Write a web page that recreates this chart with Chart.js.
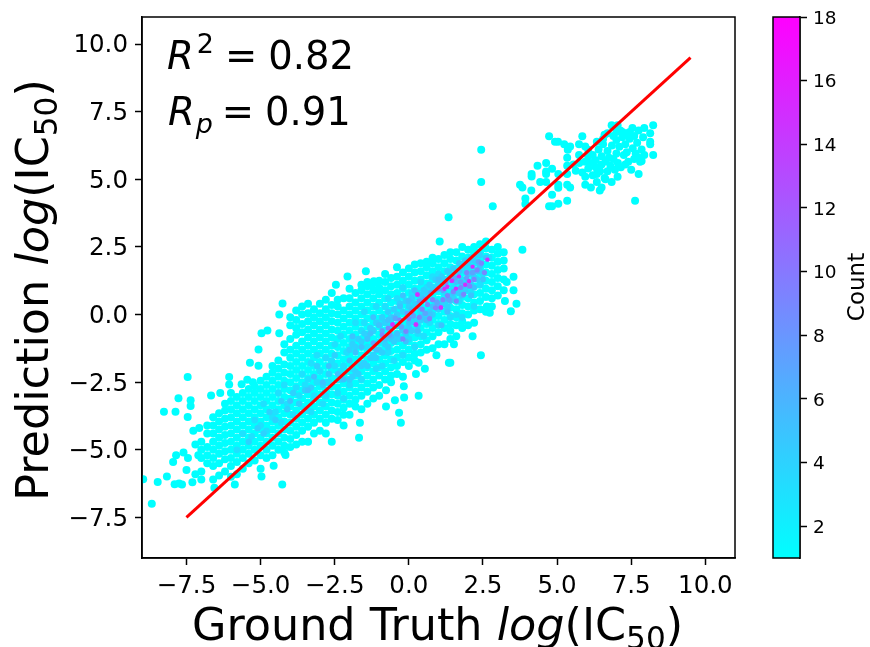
<!DOCTYPE html>
<html>
<head>
<meta charset="utf-8">
<script src="https://cdn.jsdelivr.net/npm/chart.js@4"></script>
<style>
  html, body { margin: 0; background: #fff; }
  #wrap { position: relative; width: 870px; height: 647px; overflow: hidden; }
  canvas { position: absolute; top: 0; }
</style>
</head>
<body>
<div id="wrap">
  <canvas id="main" width="870" height="647" style="left:0;width:870px;height:647px"></canvas>
  <canvas id="bar" width="135" height="647" style="left:735px;width:135px;height:647px"></canvas>
</div>
<script>
const xTicks = [-7.5, -5, -2.5, 0, 2.5, 5, 7.5, 10];
const yTicks = [-7.5, -5, -2.5, 0, 2.5, 5, 7.5, 10];
const countTicks = [2, 4, 6, 8, 10, 12, 14, 16, 18];
const countRange = [1, 18];
const fitX = [-7.5, 9.5];
const fitY = [-7.5, 9.5];

// single dots that stand apart from the main cloud
const looseX = [-8.96, -8.67, -8.47, -8.16, -8.26, -7.87, -7.46, -7.77, -7.36, -7.36, -7.46, -7.27, -7.07, -6.67, -6.36, -6.06, -6.06, -5.64, -5.45, -5.26, -5.36, -5.07, -5.07, -4.97, -4.77, -4.37, -4.37, -4.26, -4.27, -4.97, -4.56, -4.16, -5.87, -6.56, -7.9, -7.75, -7.65, -7.5, -7.3, -7.2, -7.6, -7.85, -7.95, -7.45, -7.2, -7.1,
  -2.46, -2.07, -1.45, -1.18, -1.68, -1.65, -0.27, -0.33, -0.77, 0.33, -0.16, -0.47, -0.17, -0.77, 0.24, 0.54, 0.33, 0.93, 1.35, 1.4, 2.43, 1.52, 2.15, 3.83, 3.44, 3.63, 3.24, 3.53, 3.53, 3.3, 1.34, 1.04, 2.73, 2.63, 2.8, 2.44, 2.44, 2.83];
const looseY = [-6.09, -6.99, -6.19, -5.99, -3.59, -3.59, -2.31, -3.09, -3.17, -3.38, -3.79, -4.30, -4.19, -2.99, -2.90, -2.31, -2.59, -2.58, -2.41, -2.5, -1.78, -1.89, -1.29, -0.69, -0.59, -0.69, 0, 0.41, -6.28, -5.99, -5.59, -5.19, -6.28, -6.4, -6.27, -6.25, -6.28, -5.75, -6.2, -5.9, -5.1, -5.2, -5.45, -5.3, -4.8, -5.2,
  1.1, 1.41, 1.6, 1.23, -4.55, -4.0, -4.0, -3.63, -3.4, -3.0, -3.07, -3.17, -2.65, -2.8, -2.2, -2.0, -1.78, -1.5, -1.78, -1.78, -1.5, -1.1, -0.8, 2.4, 0.12, 0.4, 0.5, 0.9, 1.4, 1.2, 3.6, 2.7, 0.07, 0.3, 0.3, 6.09, 4.9, 4.0];

// upper right cluster
const clusterX = [3.75, 3.83, 4.13, 3.93, 3.93, 4.14, 4.14, 4.34, 4.63, 4.63, 4.63, 4.83, 4.43, 4.63, 4.73, 4.93, 5.03, 5.24, 5.44, 5.36, 5.85, 5.74, 5.95, 6.05, 6.34, 6.55, 6.84, 7.04, 7.13, 7.34, 7.54, 7.75, 7.94, 8.24, 8.14, 8.14, 8.14, 8.24, 7.94, 7.85, 7.75, 7.75, 7.63, 7.04, 6.84, 6.63, 6.5, 6.44, 6.14, 5.95, 5.95, 6.34, 6.34, 5.34, 5.04, 4.83, 4.73, 4.83, 5.04, 5.04, 5.34, 5.44, 5.04, 5.34, 5.34, 5.34, 5.63, 5.74,
  5.55, 5.75, 5.85, 5.95, 6.05, 6.05, 6.15, 6.2, 6.2, 6.3, 6.3, 6.4, 6.45, 6.5, 6.5, 6.55, 6.6, 6.64, 6.7, 6.7, 6.75, 6.8, 6.85, 6.9, 6.95, 7.0, 7.0, 7.05, 7.1, 7.15, 7.2, 7.25, 7.3, 7.3, 7.35, 7.4, 7.45, 7.5, 7.55, 7.6, 7.6, 7.65, 7.7, 7.8, 7.85, 7.9, 6.9, 7.0, 7.2, 7.45, 6.7, 6.6];
const clusterY = [4.80, 4.70, 4.59, 4.29, 4.09, 5.20, 5.1, 5.5, 5.6, 5.29, 5.2, 5.39, 4.90, 4.9, 6.59, 6.39, 6.39, 6.30, 6.21, 6.09, 6.59, 6.30, 6.21, 6.09, 6.39, 6.49, 7.0, 7.0, 6.8, 6.7, 6.9, 6.8, 6.9, 7.0, 6.7, 6.39, 6.3, 5.9, 5.9, 5.68, 5.8, 5.2, 4.21, 5.09, 4.9, 5.0, 4.7, 4.59, 4.7, 4.80, 5.09, 4.9, 5.2, 4.21, 4.10, 4.0, 4.0, 4.43, 4.8, 4.69, 4.8, 4.7, 5.2, 5.2, 5.5, 5.8, 5.32, 5.9,
  5.55, 5.6, 5.25, 5.65, 5.4, 5.85, 5.6, 5.15, 5.9, 5.45, 5.7, 6.1, 5.3, 5.55, 5.85, 6.3, 5.05, 5.66, 5.3, 6.05, 5.8, 5.5, 6.25, 5.75, 5.35, 6.45, 5.95, 5.6, 6.2, 5.45, 6.55, 5.9, 5.55, 6.3, 6.0, 5.65, 6.5, 5.35, 6.15, 5.75, 6.6, 5.95, 6.35, 5.65, 6.1, 6.55, 6.6, 6.75, 6.75, 6.75, 6.7, 6.65];

// main cloud, one list of y values for each x column
const bandX = [-7.0, -6.8, -6.6, -6.4, -6.2, -6.0, -5.8, -5.6, -5.4, -5.2, -5.0, -4.8, -4.6, -4.4, -4.2, -4.0, -3.8, -3.6, -3.4, -3.2, -3.0, -2.8, -2.6, -2.4, -2.2, -2.0, -1.8, -1.6, -1.4, -1.2, -1.0, -0.8, -0.6, -0.4, -0.2, 0.0, 0.2, 0.4, 0.6, 0.8, 1.0, 1.2, 1.4, 1.6, 1.8, 2.0, 2.2, 2.4, 2.6, 2.8, 3.0, 3.2];
const bandY = [
  [-6.1, -5.8, -5.3, -5.0, -4.7],
  [-5.5, -5.2, -4.9, -4.4, -4.1],
  [-6.1, -5.6, -5.3, -5.0, -4.7, -4.4, -4.1, -3.8],
  [-5.95, -5.5, -5.15, -4.85, -4.55, -4.25, -3.95, -3.65],
  [-5.8, -5.35, -5.05, -4.75, -4.45, -4.15, -3.85, -3.55, -3.3],
  [-6.0, -5.6, -5.3, -5.0, -4.7, -4.4, -4.1, -3.8, -3.5, -3.2, -2.9],
  [-5.9, -5.45, -5.15, -4.85, -4.55, -4.25, -3.95, -3.65, -3.35, -3.05],
  [-5.7, -5.3, -5.0, -4.7, -4.4, -4.1, -3.8, -3.5, -3.2, -2.9],
  [-5.5, -5.15, -4.85, -4.55, -4.25, -3.95, -3.65, -3.35, -3.05, -2.75],
  [-5.4, -5.0, -4.7, -4.4, -4.1, -3.8, -3.5, -3.2, -2.9, -2.65],
  [-5.7, -5.2, -4.85, -4.55, -4.25, -3.95, -3.65, -3.35, -3.05, -2.75, -2.45],
  [-5.3, -5.0, -4.7, -4.4, -4.1, -3.8, -3.5, -3.2, -2.9, -2.6, -2.3],
  [-5.2, -4.85, -4.55, -4.25, -3.95, -3.65, -3.35, -3.05, -2.75, -2.45, -2.15, -1.9],
  [-5.0, -4.7, -4.4, -4.1, -3.8, -3.5, -3.2, -2.9, -2.6, -2.3, -2.0, -1.7],
  [-5.1, -4.85, -4.55, -4.25, -3.95, -3.65, -3.35, -3.05, -2.75, -2.45, -2.15, -1.85, -1.4, -1.1],
  [-4.9, -4.6, -4.3, -4.0, -3.7, -3.4, -3.1, -2.8, -2.5, -2.2, -1.9, -1.6, -1.3, -0.9, -0.4, -0.1],
  [-4.8, -4.45, -4.15, -3.85, -3.55, -3.25, -2.95, -2.65, -2.35, -2.05, -1.75, -1.45, -1.15, -0.75, -0.5, -0.2, 0.15],
  [-4.7, -4.3, -4.0, -3.7, -3.4, -3.1, -2.8, -2.5, -2.2, -1.9, -1.6, -1.3, -1.0, -0.65, -0.35, 0.0, 0.3],
  [-4.7, -4.15, -3.85, -3.55, -3.25, -2.95, -2.65, -2.35, -2.05, -1.75, -1.45, -1.15, -0.85, -0.55, -0.25, 0.05, 0.4],
  [-4.4, -4.0, -3.7, -3.4, -3.1, -2.8, -2.5, -2.2, -1.9, -1.6, -1.3, -1.0, -0.7, -0.4, -0.1, 0.2],
  [-4.3, -3.85, -3.55, -3.25, -2.95, -2.65, -2.35, -2.05, -1.75, -1.45, -1.15, -0.85, -0.55, -0.25, 0.05, 0.4],
  [-4.4, -4.0, -3.7, -3.4, -3.1, -2.8, -2.5, -2.2, -1.9, -1.6, -1.3, -1.0, -0.7, -0.4, -0.1, 0.2, 0.55],
  [-4.7, -3.85, -3.55, -3.25, -2.95, -2.65, -2.35, -2.05, -1.75, -1.45, -1.15, -0.85, -0.55, -0.25, 0.05, 0.35, 0.8],
  [-3.9, -3.6, -3.3, -3.0, -2.7, -2.4, -2.1, -1.8, -1.5, -1.2, -0.9, -0.6, -0.3, 0.0, 0.3, 0.55],
  [-4.1, -3.7, -3.45, -3.15, -2.85, -2.55, -2.25, -1.95, -1.65, -1.35, -1.05, -0.75, -0.45, -0.15, 0.15, 0.6],
  [-3.7, -3.3, -3.0, -2.7, -2.4, -2.1, -1.8, -1.5, -1.2, -0.9, -0.6, -0.3, 0.0, 0.3, 0.6, 0.95],
  [-3.4, -3.15, -2.85, -2.55, -2.25, -1.95, -1.65, -1.35, -1.05, -0.75, -0.45, -0.15, 0.15, 0.45, 0.8],
  [-3.5, -3.0, -2.7, -2.4, -2.1, -1.8, -1.5, -1.2, -0.9, -0.6, -0.3, 0.0, 0.3, 0.6, 0.9, 1.1],
  [-3.3, -2.85, -2.55, -2.25, -1.95, -1.65, -1.35, -1.05, -0.75, -0.45, -0.15, 0.15, 0.45, 0.75, 1.05, 1.2],
  [-3.1, -2.7, -2.4, -2.1, -1.8, -1.5, -1.2, -0.9, -0.6, -0.3, 0.0, 0.3, 0.6, 0.9, 1.15],
  [-3.0, -2.6, -2.25, -1.95, -1.65, -1.35, -1.05, -0.75, -0.45, -0.15, 0.15, 0.45, 0.75, 1.0, 1.25],
  [-2.4, -2.1, -1.8, -1.5, -1.2, -0.9, -0.6, -0.3, 0.0, 0.3, 0.6, 0.9, 1.2, 1.5],
  [-2.5, -2.25, -1.95, -1.65, -1.35, -1.05, -0.75, -0.45, -0.15, 0.15, 0.45, 0.75, 1.05, 1.35],
  [-2.2, -1.9, -1.6, -1.3, -1.0, -0.7, -0.4, -0.1, 0.2, 0.5, 0.8, 1.1, 1.4, 1.75],
  [-2.3, -1.75, -1.45, -1.15, -0.85, -0.55, -0.25, 0.05, 0.35, 0.65, 0.95, 1.25, 1.55],
  [-1.9, -1.6, -1.3, -1.0, -0.7, -0.4, -0.1, 0.2, 0.5, 0.8, 1.1, 1.4, 1.7],
  [-1.7, -1.45, -1.15, -0.85, -0.55, -0.25, 0.05, 0.35, 0.65, 0.95, 1.25, 1.55, 1.85],
  [-1.4, -1.1, -0.8, -0.5, -0.2, 0.1, 0.4, 0.7, 1.0, 1.3, 1.6, 1.9],
  [-1.3, -0.95, -0.65, -0.35, -0.05, 0.25, 0.55, 0.85, 1.15, 1.45, 1.75, 1.95],
  [-1.25, -0.8, -0.5, -0.2, 0.1, 0.4, 0.7, 1.0, 1.3, 1.6, 1.9, 2.1],
  [-1.1, -0.65, -0.35, -0.05, 0.25, 0.55, 0.85, 1.15, 1.45, 1.75, 2.05],
  [-1.1, -0.5, -0.2, 0.1, 0.4, 0.7, 1.0, 1.3, 1.6, 1.9, 2.2],
  [-0.9, -0.6, -0.35, -0.05, 0.25, 0.55, 0.85, 1.15, 1.45, 1.75, 2.05, 2.3],
  [-0.8, -0.4, -0.1, 0.2, 0.5, 0.8, 1.1, 1.4, 1.7, 2.0, 2.3],
  [-0.5, -0.25, 0.05, 0.35, 0.65, 0.95, 1.25, 1.55, 1.85, 2.15, 2.5],
  [-0.4, 0.0, 0.3, 0.6, 0.9, 1.2, 1.5, 1.8, 2.1, 2.4],
  [-0.3, 0.15, 0.45, 0.75, 1.05, 1.35, 1.65, 1.95, 2.25, 2.5],
  [0.2, 0.5, 0.8, 1.1, 1.4, 1.7, 2.0, 2.3, 2.6],
  [0.1, 0.65, 0.95, 1.25, 1.55, 1.85, 2.15, 2.45, 2.7],
  [0.6, 0.9, 1.2, 1.5, 1.8, 2.1, 2.4],
  [0.7, 1.05, 1.35, 1.65, 1.95, 2.25, 2.5],
  [0.9, 1.3, 1.7, 2.0, 2.3]
];

// denser spots, drawn over the cloud
const tint3X = [-5.6, -5.3, -5.0, -4.8, -4.5, -4.3, -4.1, -3.9, -3.7, -3.5, -3.4, -3.2, -3.0, -2.9, -2.7, -2.6, -2.4, -2.3, -2.1, -2.0, -1.9, -1.7, -1.6, -1.4, -1.3, -1.1, -1.0, -0.9, -0.7, -0.6, -0.4, -0.3, -0.1, 0.1, 0.2, 0.4, 0.6, 0.7, 0.9, 1.1, 1.3, 1.5, 1.7, 1.9, 2.1, 2.3, 2.5, -4.4, -3.6, -3.1, -2.5, -2.2, -1.5, -0.8, -0.2, 0.3, 0.8, 1.4, 2.0, 2.7,
  -5.8, -5.2, -4.9, -4.6, -4.2, -3.8, -3.5, -3.3, -3.1, -2.8, -2.5, -2.3, -2.2, -1.9, -1.8, -1.5, -1.2, -1.1, -0.9, -0.7, -0.5, -0.2, 0.0, 0.2, 0.5, 0.7, 1.0, 1.2, 1.6, 1.8, 2.2, 2.4, -1.6, -1.0, -0.4, 0.4, 1.0, 1.8, -2.8, -3.3];
const tint3Y = [-4.4, -4.5, -4.1, -4.3, -3.6, -4.0, -3.3, -3.7, -3.0, -3.5, -2.4, -3.0, -2.1, -3.3, -2.5, -1.7, -2.9, -2.1, -1.4, -2.6, -0.9, -1.8, -2.4, -1.2, -0.5, -2.0, -1.0, -0.2, -1.4, -0.3, -0.9, 0.4, -0.5, 0.8, -0.2, 0.1, 1.0, -0.3, 0.5, 1.4, 0.2, 1.0, 0.5, 1.6, 0.8, 1.9, 1.5, -2.9, -2.2, -1.5, -1.1, -1.9, -0.3, 0.3, 1.0, -0.7, 1.4, -0.1, 1.7, 2.1,
  -5.0, -3.9, -3.3, -3.8, -2.6, -2.7, -2.6, -1.8, -2.5, -1.6, -1.9, -0.8, -3.1, -2.0, -0.3, 0.1, -1.6, 0.3, -1.9, 0.6, -1.7, -1.5, -0.9, -1.2, -0.8, 0.8, -0.4, 0.8, 0.0, 1.3, 0.3, 1.1, -0.6, -0.3, 0.6, 1.2, 1.5, -0.1, -3.0, -3.6];
const tint4X = [-2.0, -1.9, -1.8, -1.7, -1.6, -1.5, -1.4, -1.3, -1.2, -1.1, -1.0, -0.9, -0.8, -0.7, -0.6, -0.5, -0.4, -0.3, -0.2, -0.1, 0.0, 0.1, 0.2, 0.3, 0.4, 0.5, 0.6, 0.7, 0.8, 0.9, 1.0, 1.1, 1.2, 1.3, 1.4, 1.5, 1.6, 1.7, 1.8, 1.9, 2.0, 2.1, 2.2, 2.3, 2.4,
  -2.0, -1.9, -1.8, -1.7, -1.6, -1.5, -1.4, -1.3, -1.2, -1.1, -1.0, -0.9, -0.8, -0.7, -0.6, -0.5, -0.4, -0.3, -0.2, -0.1, 0.0, 0.1, 0.2, 0.3, 0.4, 0.5, 0.6, 0.7, 0.8, 0.9, 1.0, 1.1, 1.2, 1.3, 1.4, 1.5, 1.6, 1.7, 1.8, 1.9, 2.0, 2.1, 2.2, 2.3, 2.4,
  -5.4, -5.1, -4.9, -4.7, -4.5, -4.3, -4.1, -3.9, -3.7, -3.5, -3.3, -3.1, -2.9, -2.7, -2.5, -2.3];
const tint4Y = [-2.4, -2.3, -2.1, -2.2, -1.9, -1.8, -1.9, -1.6, -1.5, -1.6, -1.3, -1.4, -1.1, -1.2, -0.9, -1.0, -0.8, -0.9, -0.6, -0.7, -0.5, -0.6, -0.3, -0.4, -0.2, -0.1, -0.2, 0.1, 0.0, 0.3, 0.2, 0.4, 0.5, 0.3, 0.7, 0.6, 0.9, 0.8, 1.0, 0.9, 1.2, 1.1, 1.4, 1.3, 1.6,
  -1.3, -1.1, -1.2, -0.9, -1.0, -0.7, -0.8, -0.5, -0.6, -0.3, -0.4, -0.1, -0.3, 0.1, -0.1, 0.2, 0.0, 0.4, 0.1, 0.5, 0.3, 0.6, 0.4, 0.8, 0.7, 0.9, 0.8, 1.1, 1.0, 1.3, 1.1, 1.4, 1.3, 1.6, 1.5, 1.7, 1.6, 1.9, 1.8, 2.0, 1.9, 2.1, 2.0, 2.2, 2.2,
  -4.7, -4.2, -4.4, -3.6, -3.9, -3.2, -3.5, -2.9, -3.3, -2.8, -2.7, -1.9, -2.6, -2.2, -1.5, -2.4];
const tint5X = [-4.0, -3.4, -2.9, -2.4, -2.0, -1.6, -1.3, -1.0, -0.8, -0.5, -0.3, -0.1, 0.1, 0.3, 0.5, 0.7, 0.9, 1.0, 1.2, 1.4, 1.6, 1.8, 2.0, 2.2, 2.4, 2.6, -0.6, 0.0, 0.6, 1.1, 1.7,
  -3.2, -2.7, -2.2, -1.8, -1.4, -1.1, -0.7, -0.4, -0.2, 0.0, 0.2, 0.4, 0.8, 1.3, 1.5, 1.9, 2.1, 2.3, 2.5, -1.9, -1.2, 0.3, 1.0];
const tint5Y = [-3.2, -2.8, -2.5, -2.2, -1.7, -1.2, -0.7, -0.4, -0.9, -0.1, 0.3, -1.0, 0.2, -0.6, 0.6, 0.0, 0.9, 0.3, 1.1, 0.5, 1.2, 0.7, 1.5, 1.0, 1.8, 2.1, -0.8, -0.3, -0.2, -0.4, 1.6,
  -2.3, -1.9, -2.4, -1.4, -0.9, -1.3, -0.2, -0.7, 0.7, 0.5, 0.9, -0.1, 0.3, 0.1, 0.8, 1.1, 0.7, 1.6, 1.3, -0.8, -0.1, 0.3, 1.3];
const tint7X = [-1.2, -0.9, -0.65, -0.45, -0.25, -0.05, 0.15, 0.35, 0.55, 0.75, 0.95, 1.15, 1.35, 1.55, 1.75, 1.95, 2.15, 2.35];
const tint7Y = [-1.05, -0.6, -0.75, -0.15, -0.45, 0.05, -0.05, 0.5, 0.05, 0.8, 0.45, 0.9, 0.55, 1.35, 1.2, 1.35, 1.55, 1.95];
const tint9X = [-0.9, -0.55, -0.3, -0.1, 0.1, 0.24, 0.29, 0.45, 0.63, 0.8, 1.0, 1.08, 1.3, 1.45, 1.6, 1.75, 1.95, 2.2, 2.45,
  -0.7, -0.2, 0.0, 0.35, 0.55, 0.7, 0.9, 1.15, 1.25, 1.5, 1.85, 2.05, 2.3, 2.55];
const tint9Y = [-0.75, -0.37, -0.2, -0.62, 0.1, -0.37, 0.74, 0.2, 0.37, 0.55, 0.95, 0.26, 0.7, 1.25, 0.5, 1.0, 1.55, 1.3, 1.9,
  -0.5, -0.9, -0.15, -0.1, 0.55, -0.15, 0.25, 0.55, 1.2, 0.85, 0.75, 1.05, 1.65, 1.55];
const tint14X = [-0.55, 0.24, 0.29, 1.3, 1.59, 1.69, 2.03, 2.15, 2.65, 1.08, 1.45, 1.9, 1.2];
const tint14Y = [-0.37, -0.37, 0.74, 1.03, 0.96, 1.41, 1.23, 1.77, 2.03, 0.26, 1.25, 1.1, 0.95];

function coolColor(count) {
  const t = (count - countRange[0]) / (countRange[1] - countRange[0]);
  return `rgb(${Math.round(255 * t)}, ${Math.round(255 * (1 - t))}, 255)`;
}

function zipPoints(xs, ys) {
  return xs.map((x, i) => ({ x, y: ys[i] }));
}

const bandPoints = bandX.flatMap((x, i) => bandY[i].map((y) => ({ x, y })));

function dots(data, count, radius) {
  return { data, backgroundColor: coolColor(count), pointRadius: radius, pointHoverRadius: radius, borderWidth: 0, pointBorderWidth: 0 };
}

// draws a run of plain, italic, sub and superscript pieces
function drawRuns(ctx, runs, size, x, y, center) {
  const fontOf = (r) => `${r.italic ? "italic " : ""}${size * (r.sub || r.sup ? 0.7 : 1)}px "DejaVu Sans"`;
  let total = 0;
  runs.forEach((r) => {
    ctx.font = fontOf(r);
    total += ctx.measureText(r.text).width + (r.gap || 0);
  });
  let pos = center ? x - total / 2 : x;
  ctx.textAlign = "left";
  ctx.textBaseline = "alphabetic";
  ctx.fillStyle = "#000";
  runs.forEach((r) => {
    ctx.font = fontOf(r);
    pos += r.gap || 0;
    ctx.fillText(r.text, pos, y + (r.sub ? size * 0.2 : 0) - (r.sup ? size * 0.42 : 0));
    pos += ctx.measureText(r.text).width;
  });
}

const logRuns = [
  { text: "log", italic: true },
  { text: "(IC" },
  { text: "50", sub: true },
  { text: ")" }
];

const mainLabels = {
  id: "mainLabels",
  afterDraw(chart) {
    const { ctx, chartArea: a } = chart;
    ctx.save();
    ctx.strokeStyle = "#000";
    ctx.lineWidth = 1.5;
    ctx.strokeRect(a.left, a.top, a.right - a.left, a.bottom - a.top);
    drawRuns(ctx, [{ text: "R", italic: true }, { text: "2", sup: true, gap: 3 }, { text: "=", gap: 11 }, { text: "0.82", gap: 11 }], 38.5, 167, 69, false);
    drawRuns(ctx, [{ text: "R", italic: true }, { text: "p", italic: true, sub: true, gap: 1 }, { text: "=", gap: 9 }, { text: "0.91", gap: 11 }], 38.5, 168, 125, false);
    drawRuns(ctx, [{ text: "Ground Truth " }].concat(logRuns), 44.5, 437.5, 640, true);
    ctx.translate(48, 290);
    ctx.rotate(-Math.PI / 2);
    drawRuns(ctx, [{ text: "Prediction " }].concat(logRuns), 44.5, 0, 0, true);
    ctx.restore();
  }
};

const fmtTick = (v) => v.toFixed(1).replace("-", "\u2212");

function dropPadding(s) {
  s.paddingTop = 0;
  s.paddingBottom = 0;
  s.paddingLeft = 0;
  s.paddingRight = 0;
}

function axis(min, max, ticks, fit, labelOffset) {
  return {
    type: "linear",
    min,
    max,
    afterBuildTicks: (s) => { s.ticks = ticks.map((value) => ({ value })); },
    afterFit: (s) => { fit(s); dropPadding(s); },
    grid: { drawOnChartArea: false, tickLength: 7, tickColor: "#000", tickWidth: 1.5 },
    border: { color: "#000", width: 1.5 },
    ticks: {
      callback: fmtTick,
      color: "#000",
      padding: 7,
      labelOffset,
      maxRotation: 0,
      autoSkip: false,
      font: { family: "DejaVu Sans", size: 24.5 }
    }
  };
}

new Chart(document.getElementById("main"), {
  type: "scatter",
  data: {
    datasets: [
      { data: zipPoints(fitX, fitY), showLine: true, borderColor: "#ff0000", borderWidth: 3, pointRadius: 0, clip: false },
      dots(zipPoints(tint14X, tint14Y), 15, 2.2),
      dots(zipPoints(tint9X, tint9Y), 9, 2.6),
      dots(zipPoints(tint7X, tint7Y), 7, 2.8),
      dots(zipPoints(tint5X, tint5Y), 5, 3),
      dots(zipPoints(tint4X, tint4Y), 4, 3.2),
      dots(zipPoints(tint3X, tint3Y), 3, 3.4),
      dots(bandPoints, 1, 4),
      dots(zipPoints(clusterX, clusterY), 1, 4),
      dots(zipPoints(looseX, looseY), 1, 4)
    ]
  },
  options: {
    responsive: false,
    animation: false,
    devicePixelRatio: 1,
    layout: { padding: { left: 0, top: 17, right: 135, bottom: 0 } },
    plugins: { legend: { display: false }, tooltip: { enabled: false } },
    scales: {
      x: axis(-9, 11, xTicks, (s) => { s.height = 89; }, 0),
      y: axis(-9, 11, yTicks, (s) => { s.width = 142; }, 2)
    }
  },
  plugins: [mainLabels]
});

const barLabels = {
  id: "barLabels",
  afterDraw(chart) {
    const { ctx, chartArea: a } = chart;
    ctx.save();
    ctx.strokeStyle = "#000";
    ctx.lineWidth = 1.5;
    ctx.strokeRect(a.left, a.top, a.right - a.left, a.bottom - a.top);
    ctx.translate(129, 287);
    ctx.rotate(-Math.PI / 2);
    ctx.font = '23px "DejaVu Sans"';
    ctx.textAlign = "center";
    ctx.textBaseline = "alphabetic";
    ctx.fillStyle = "#000";
    ctx.fillText("Count", 0, 0);
    ctx.restore();
  }
};

new Chart(document.getElementById("bar"), {
  type: "bar",
  data: {
    labels: ["Count"],
    datasets: [{
      data: [countRange],
      barPercentage: 1,
      categoryPercentage: 1,
      borderWidth: 0,
      backgroundColor(c) {
        const a = c.chart.chartArea;
        if (!a) return coolColor(1);
        const g = c.chart.ctx.createLinearGradient(0, a.bottom, 0, a.top);
        g.addColorStop(0, coolColor(countRange[0]));
        g.addColorStop(1, coolColor(countRange[1]));
        return g;
      }
    }]
  },
  options: {
    responsive: false,
    animation: false,
    devicePixelRatio: 1,
    layout: { padding: { left: 38, top: 17, right: 0, bottom: 89 } },
    plugins: { legend: { display: false }, tooltip: { enabled: false } },
    scales: {
      x: { display: false },
      y: {
        position: "right",
        min: countRange[0],
        max: countRange[1],
        afterBuildTicks: (s) => { s.ticks = countTicks.map((value) => ({ value })); },
        afterFit: (s) => { s.width = 70; dropPadding(s); },
        grid: { drawOnChartArea: false, tickLength: 7, tickColor: "#000", tickWidth: 1.5 },
        border: { color: "#000", width: 1.5 },
        ticks: { color: "#000", padding: 6, labelOffset: 2, font: { family: "DejaVu Sans", size: 18.5 } }
      }
    }
  },
  plugins: [barLabels]
});
</script>
</body>
</html>
